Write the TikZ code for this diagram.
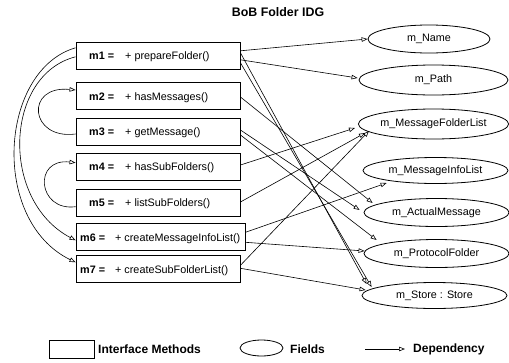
\documentclass[tikz,border=0pt]{standalone}
\usepackage{fontspec}
\setmainfont{Liberation Sans}
\usetikzlibrary{arrows.meta,shapes.geometric}
\begin{document}
\begin{tikzpicture}[x=1pt,y=-1pt,
  method/.style={draw,line width=0.9pt,rectangle,minimum height=27pt,inner sep=0pt},
  field/.style={draw,line width=0.8pt,ellipse,minimum width=145pt,minimum height=28pt,inner sep=0pt,
    font=\fontsize{10.8}{13}\selectfont},
  lbl/.style={anchor=base west,inner sep=0pt,font=\fontsize{10.8}{13}\selectfont\bfseries},
  sig/.style={anchor=base west,inner sep=0pt,font=\fontsize{10.8}{13}\selectfont},
  dep/.style={line width=0.6pt,-{Triangle[open,length=6pt,width=4.5pt]}},
  legtext/.style={anchor=west,inner sep=0pt,font=\fontsize{12}{14}\selectfont\bfseries}
]
\useasboundingbox (0,0) rectangle (509,362);

\node[inner sep=0pt,font=\fontsize{12.4}{14}\selectfont\bfseries] (title) at (278,12) {BoB Folder IDG};

% interface methods
\node[method,minimum width=164pt] (m1) at (158,55.8) {};
\node[method,minimum width=164pt] (m2) at (158,96) {};
\node[method,minimum width=164pt] (m3) at (158,131.5) {};
\node[method,minimum width=164pt] (m4) at (158,166.7) {};
\node[method,minimum width=164pt] (m5) at (158,202.7) {};
\node[method,minimum width=169pt] (m6) at (160.5,237.3) {};
\node[method,minimum width=164pt] (m7) at (158,269.3) {};

\node[lbl] (m1l) at (89,59.8) {m1 =};
\node[sig] (m1s) at (125,59.8) {+ prepareFolder()};
\node[lbl] (m2l) at (89,100) {m2 =};
\node[sig] (m2s) at (125,100) {+ hasMessages()};
\node[lbl] (m3l) at (89,135.5) {m3 =};
\node[sig] (m3s) at (125,135.5) {+ getMessage()};
\node[lbl] (m4l) at (89,170.7) {m4 =};
\node[sig] (m4s) at (125,170.7) {+ hasSubFolders()};
\node[lbl] (m5l) at (89,206.7) {m5 =};
\node[sig] (m5s) at (125,206.7) {+ listSubFolders()};
\node[lbl] (m6l) at (80,241.3) {m6 =};
\node[sig] (m6s) at (115,241.3) {+ createMessageInfoList()};
\node[lbl] (m7l) at (80,273.3) {m7 =};
\node[sig] (m7s) at (115,273.3) {+ createSubFolderList()};

% fields
\node[field,minimum width=122pt] (mName) at (429,39) {m\_Name};
\node[field,minimum width=149pt,minimum height=30pt] (mPath) at (433.5,80) {m\_Path};
\node[field,minimum height=30pt] (mMFL) at (433.5,124) {m\_MessageFolderList};
\node[field,minimum height=26pt] (mMIL) at (435.5,170.5) {m\_MessageInfoList};
\node[field] (mAM) at (436.5,212.5) {m\_ActualMessage};
\node[field] (mPF) at (436.5,253.5) {m\_ProtocolFolder};
\node[field,minimum height=26pt] (mStore) at (434.5,295.5) {m\_Store : Store};

% dependencies between methods
\draw[dep] ([yshift=8pt]m1.west) .. controls +(-76,22) and +(-86,-42) .. ([yshift=7pt]m7.west);
\draw[dep] ([yshift=-1pt]m1.west) .. controls +(-71,18) and +(-76,-40) .. ([yshift=-3pt]m6.west);
\draw[dep] ([yshift=-2.5pt]m3.west) .. controls +(-46,6) and +(-51,-5) .. ([yshift=6pt]m2.west);
\draw[dep] ([yshift=-4pt]m5.west) .. controls +(-38,5) and +(-43,-5) .. ([yshift=4pt]m4.west);

% dependencies on fields
\draw[dep] ([yshift=5pt]m1.east) -- (mName.west);
\draw[dep] ([yshift=-4pt]m1.east) -- ([shift={(-1,-2)}]mPath.west);
\draw[dep] ([yshift=3pt]m1.east) -- ([shift={(5,-11.5)}]mStore.west);
\draw[dep] ([yshift=-7pt]m1.east) -- ([shift={(10,-8.5)}]mStore.west);
\draw[dep] ([yshift=-1pt]m2.east) -- ([shift={(9,-9.5)}]mAM.west);
\draw[dep] ([yshift=1.5pt]m3.east) -- ([shift={(-4,-2.5)}]mAM.west);
\draw[dep] ([yshift=-3.5pt]m3.east) -- ([shift={(13,-13.5)}]mPF.west);
\draw[dep] ([yshift=1.7pt]m4.east) -- ([shift={(-3,4)}]mMFL.west);
\draw[dep] ([yshift=0.7pt]m5.east) -- ([shift={(7,9)}]mMFL.west);
\draw[dep] ([yshift=5pt]m6.east) -- ([shift={(24,12.5)}]mMIL.west);
\draw[dep] ([yshift=-5pt]m6.east) -- ([shift={(1,-2.5)}]mPF.west);
\draw[dep] ([yshift=4pt]m7.east) -- ([shift={(11,7)}]mMFL.west);
\draw[dep] ([yshift=1pt]m7.east) -- ([shift={(4,-5.5)}]mStore.west);

% legend
\node[draw,line width=0.9pt,minimum width=45pt,minimum height=18pt,inner sep=0pt] (legbox) at (71.5,349) {};
\node[legtext] (legboxt) at (98,349) {Interface Methods};
\node[draw,line width=0.8pt,ellipse,minimum width=43pt,minimum height=16pt,inner sep=0pt] (legell) at (261.5,348) {};
\node[legtext] (legellt) at (290,349) {Fields};
\coordinate (legA) at (365,349);
\coordinate (legB) at (405,349);
\draw[dep] (legA) -- (legB);
\node[legtext] (legdept) at (413,349) {Dependency};
\end{tikzpicture}
\end{document}
